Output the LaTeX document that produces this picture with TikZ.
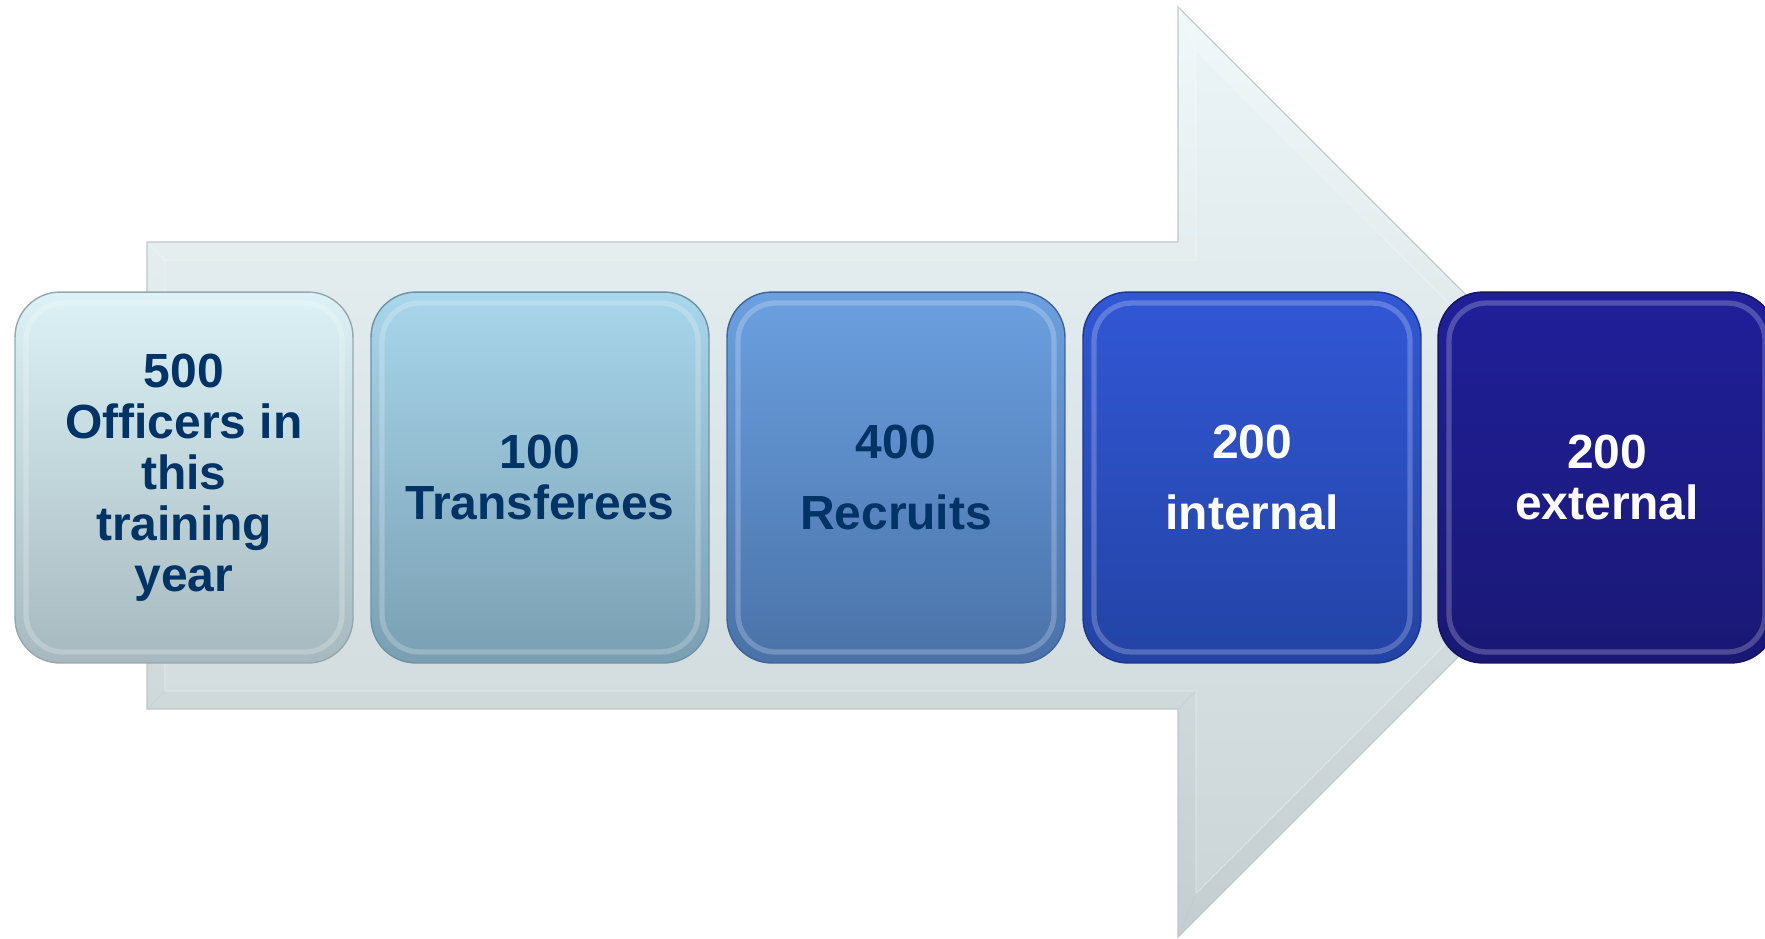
\documentclass[tikz,border=0pt]{standalone}
\usepackage{fontspec}
\setmainfont{Liberation Sans}
\usetikzlibrary{calc,shadings}
\definecolor{navy}{RGB}{0,51,102}
\definecolor{arrowtop}{RGB}{240,248,250}
\definecolor{arrowbot}{RGB}{196,205,207}
\definecolor{arrowin}{RGB}{234,243,245}
\definecolor{arrowinb}{RGB}{204,213,215}
\definecolor{arrowline}{RGB}{190,200,203}
\definecolor{aT}{RGB}{220,242,246}\definecolor{aB}{RGB}{166,185,190}\definecolor{aD}{RGB}{150,168,172}
\definecolor{bT}{RGB}{168,214,235}\definecolor{bB}{RGB}{122,159,178}\definecolor{bD}{RGB}{110,145,165}
\definecolor{cT}{RGB}{107,160,224}\definecolor{cB}{RGB}{74,114,168}\definecolor{cD}{RGB}{64,100,150}
\definecolor{dT}{RGB}{50,87,214}\definecolor{dB}{RGB}{35,67,165}\definecolor{dD}{RGB}{30,55,140}
\definecolor{eT}{RGB}{32,31,153}\definecolor{eB}{RGB}{26,24,117}\definecolor{eD}{RGB}{20,20,95}
\begin{document}
\begin{tikzpicture}[x=0.02cm,y=-0.02cm,
  stagebox/.style={rounded corners=0.9cm, minimum width=6.76cm, minimum height=7.42cm,
    inner sep=0pt, align=center, line width=0.8pt,
    font=\bfseries\fontsize{27.3}{29}\selectfont,
    path picture={
      \draw[white, opacity=0.22, line width=3pt, rounded corners=0.75cm]
        ($(path picture bounding box.north west)+(0.22cm,-0.22cm)$) rectangle
        ($(path picture bounding box.south east)+(-0.22cm,0.22cm)$);
    }},
  widespace/.style={font=\bfseries\fontsize{27.3}{40.4}\selectfont},
  arrowbody/.style={top color=arrowtop, bottom color=arrowbot, draw=arrowline, line width=0.6pt},
  arrowinner/.style={top color=arrowin, bottom color=arrowinb, draw=white, draw opacity=0.3, line width=0.6pt}
]
\useasboundingbox (0,0) rectangle (1765,938);
\clip (0,0) rectangle (1765,938);
\fill[white] (0,0) rectangle (1765,938);

% big arrow
\path[arrowbody] (147,242) -- (1178,242) -- (1178,7) -- (1643,472) -- (1178,937) -- (1178,709) -- (147,709) -- cycle;
\path[arrowinner] (165,260) -- (1196,260) -- (1196,50.5) -- (1617.5,472) -- (1196,893.5) -- (1196,691) -- (165,691) -- cycle;
\draw[white, opacity=0.3, line width=0.6pt] (147,242) -- (165,260) (1178,7) -- (1196,50.5) (1643,472) -- (1617.5,472);
\draw[arrowline, opacity=0.4, line width=0.6pt] (147,709) -- (165,691) (1178,937) -- (1196,893.5) (1178,709) -- (1196,691);

% stages
\node[stagebox, top color=aT, bottom color=aB, draw=aD, text=navy] (b1) at (184,477.5)
  {500\\Officers in\\this\\training\\year};
\node[stagebox, top color=bT, bottom color=bB, draw=bD, text=navy] (b2) at (540,477.5)
  {100\\Transferees};
\node[stagebox, widespace, top color=cT, bottom color=cB, draw=cD, text=navy] (b3) at (896,477.5)
  {400\\Recruits};
\node[stagebox, widespace, top color=dT, bottom color=dB, draw=dD, text=white] (b4) at (1252,477.5)
  {200\\internal};
\node[stagebox, top color=eT, bottom color=eB, draw=eD, text=white] (b5) at (1607,477.5)
  {200\\external};
\end{tikzpicture}
\end{document}
